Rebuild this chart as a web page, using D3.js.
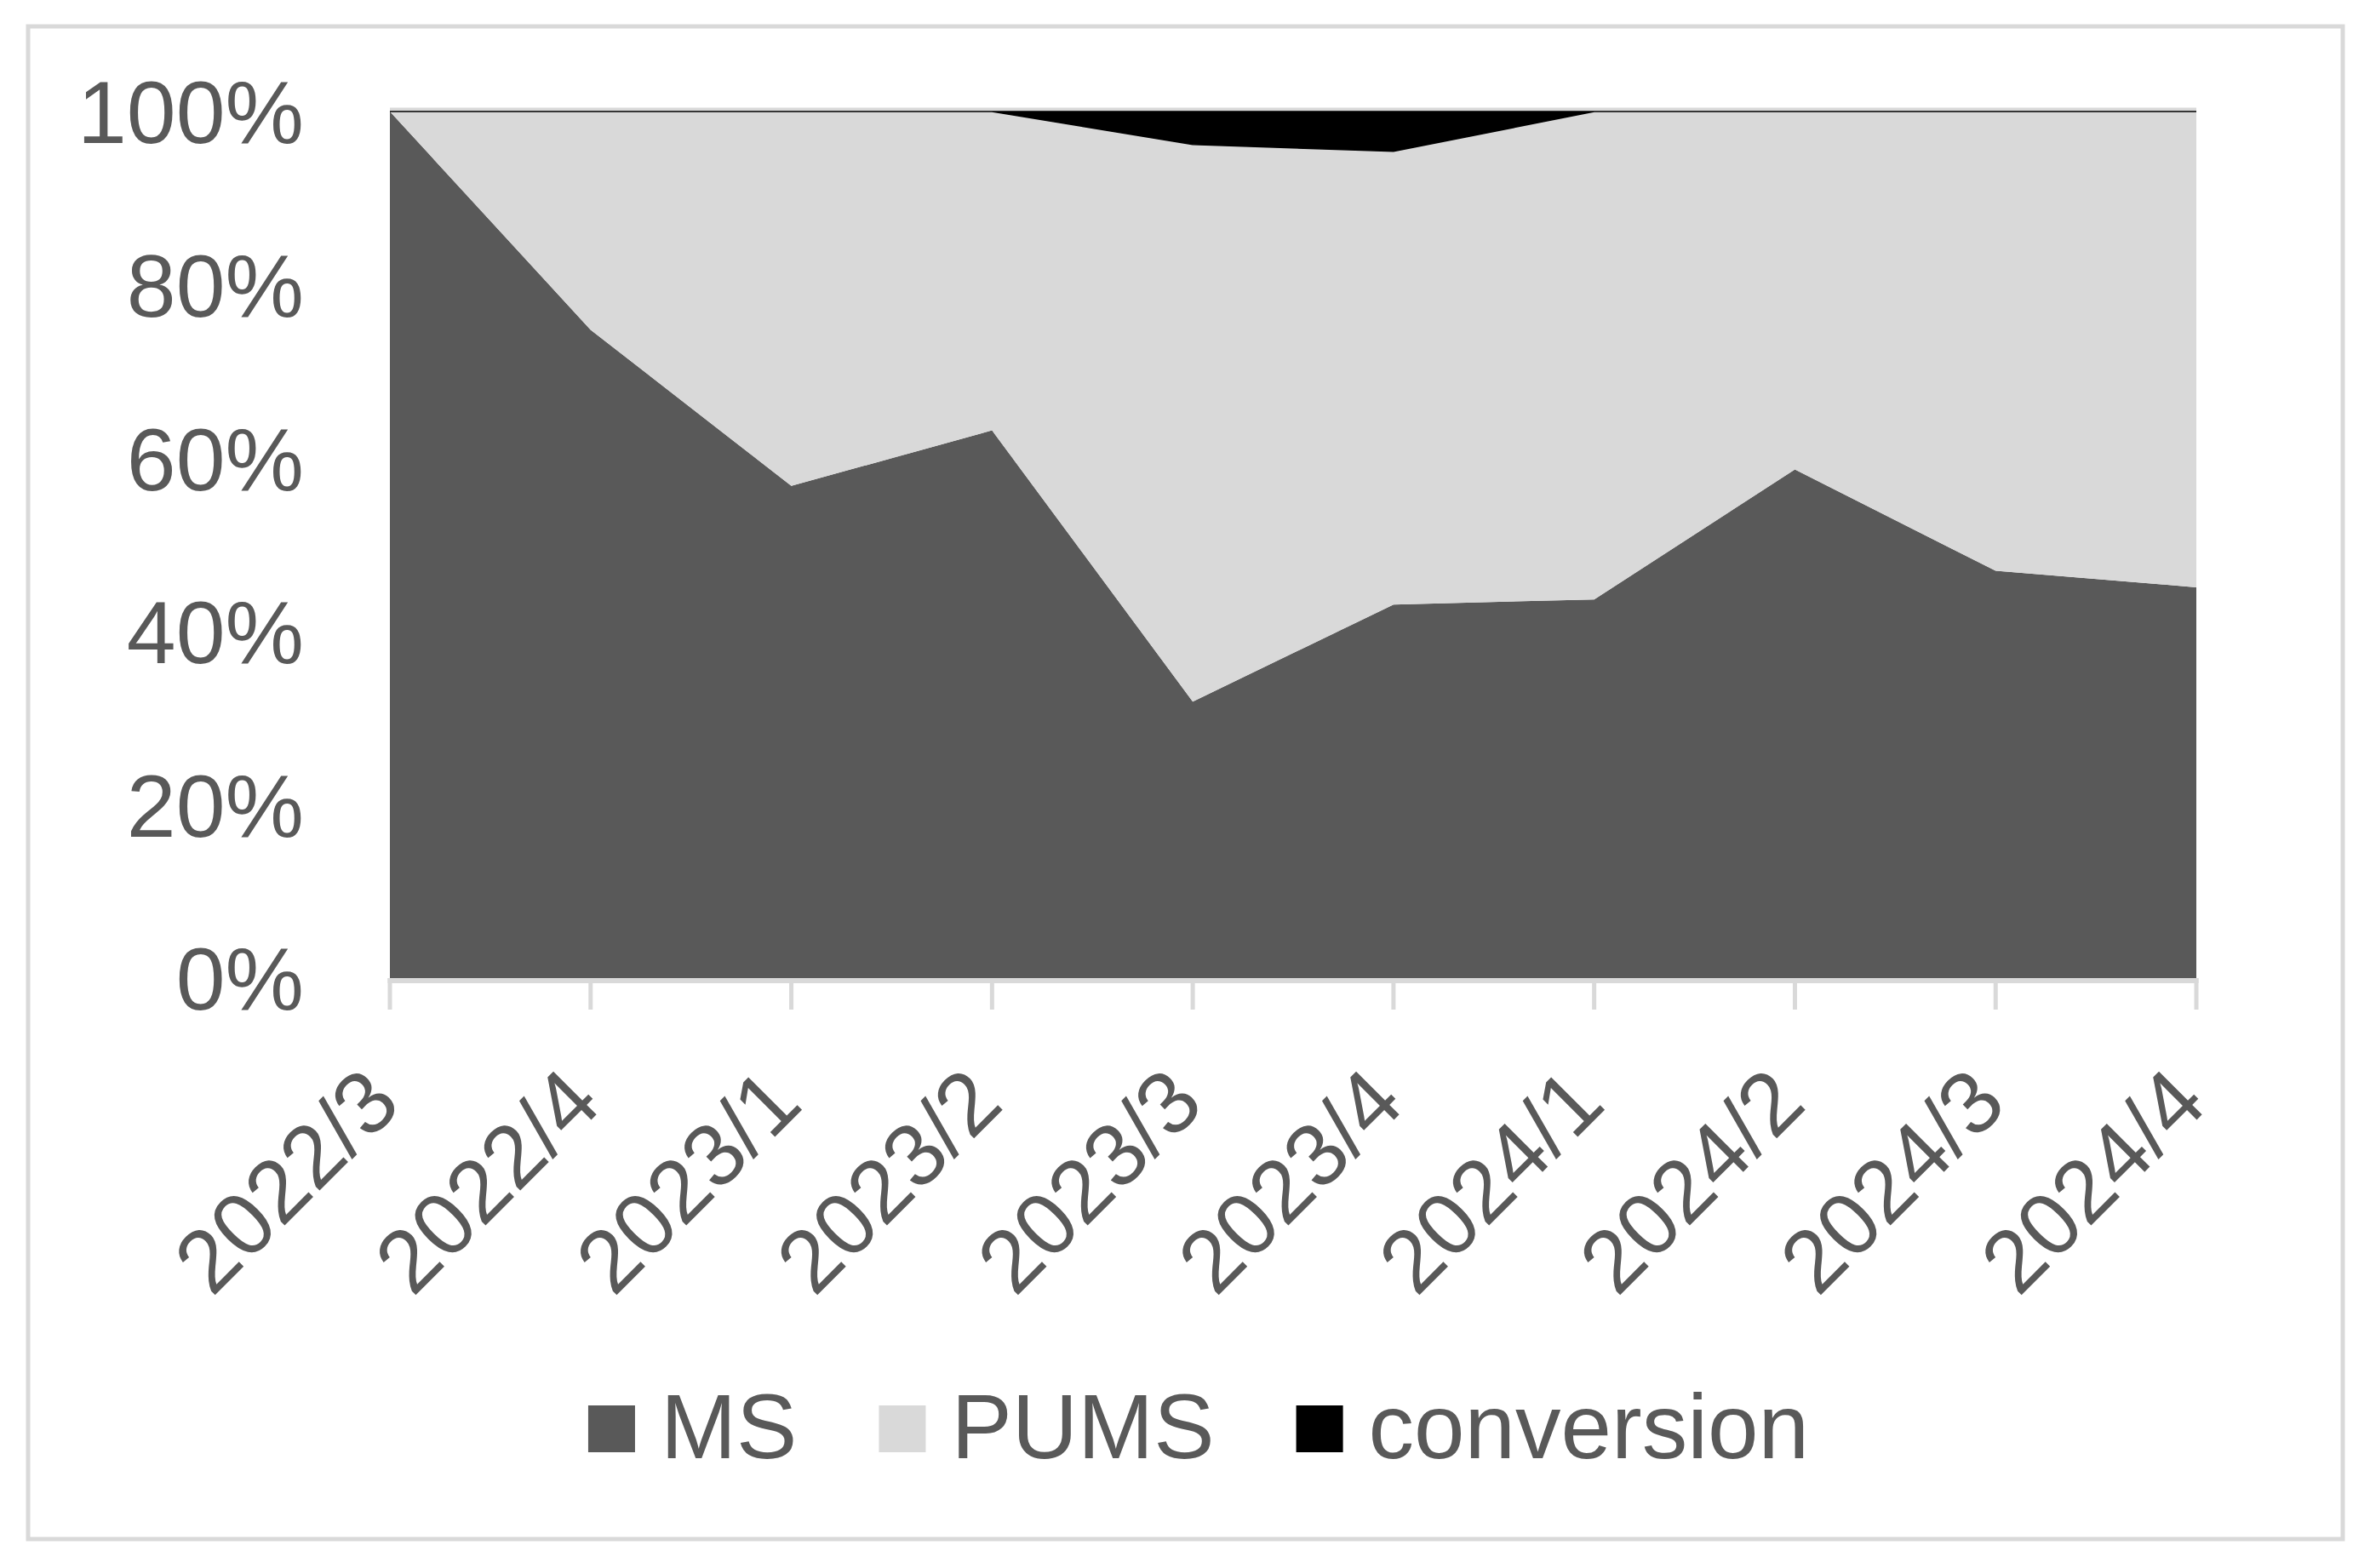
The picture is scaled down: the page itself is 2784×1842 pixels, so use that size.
<!DOCTYPE html>
<html>
<head>
<meta charset="utf-8">
<script src="https://cdn.jsdelivr.net/npm/d3@7"></script>
<style>
  html, body { margin: 0; padding: 0; background: #ffffff; }
  svg { display: block; }
  text { font-family: "Liberation Sans", Arial, sans-serif; fill: #595959; }
</style>
</head>
<body>
<svg id="chart" width="2784" height="1842"></svg>
<script>
const categories = ["2022/3","2022/4","2023/1","2023/2","2023/3","2023/4","2024/1","2024/2","2024/3","2024/4"];
const msValues = [100, 74.8, 56.8, 63.2, 31.9, 43.1, 43.7, 58.7, 47.0, 45.1];
const pumsValues = [0, 25.2, 43.2, 36.8, 64.3, 52.3, 56.3, 41.3, 53.0, 54.9];
const conversionValues = [0, 0, 0, 0, 3.8, 4.6, 0, 0, 0, 0];
const seriesNames = ["MS", "PUMS", "conversion"];
const seriesColors = ["#595959", "#d9d9d9", "#000000"];
const yTicks = [0, 20, 40, 60, 80, 100];

const svg = d3.select("#chart");
const W = 2784, H = 1842;
const plot = { left: 458, right: 2580, top: 131, bottom: 1149 };

svg.append("rect").attr("x", 0).attr("y", 0).attr("width", W).attr("height", H).attr("fill", "#ffffff");
// outer border
svg.append("rect").attr("x", 33).attr("y", 31).attr("width", 2719).attr("height", 1777)
  .attr("fill", "none").attr("stroke", "#d9d9d9").attr("stroke-width", 5);

const x = d3.scalePoint().domain(categories).range([plot.left, plot.right]);
const y = d3.scaleLinear().domain([0, 100]).range([plot.bottom, plot.top]);

// gridlines
svg.append("g").selectAll("line").data(yTicks).join("line")
  .attr("x1", plot.left).attr("x2", plot.right)
  .attr("y1", d => y(d) - 2).attr("y2", d => y(d) - 2)
  .attr("stroke", "#d9d9d9").attr("stroke-width", 5);

const table = categories.map((c, i) => ({ cat: c, MS: msValues[i], PUMS: pumsValues[i], conversion: conversionValues[i] }));
const stacked = d3.stack().keys(seriesNames)(table);

const area = d3.area()
  .x(d => x(d.data.cat))
  .y0(d => y(d[0]))
  .y1(d => y(d[1]));

svg.append("g").selectAll("path").data(stacked).join("path")
  .attr("d", area)
  .attr("fill", (d, i) => seriesColors[i])
  .attr("stroke", (d, i) => i === 2 ? "#000000" : "none")
  .attr("stroke-width", 1.5);

// x axis line and ticks
svg.append("line").attr("x1", plot.left - 2.5).attr("x2", plot.right + 2.5)
  .attr("y1", plot.bottom + 3).attr("y2", plot.bottom + 3)
  .attr("stroke", "#d9d9d9").attr("stroke-width", 6);
svg.append("g").selectAll("line").data(categories).join("line")
  .attr("x1", d => x(d)).attr("x2", d => x(d))
  .attr("y1", plot.bottom).attr("y2", plot.bottom + 37)
  .attr("stroke", "#d9d9d9").attr("stroke-width", 5);

// y labels
svg.append("g").selectAll("text").data(yTicks).join("text")
  .attr("x", 357).attr("y", d => y(d))
  .attr("dy", "0.36em")
  .attr("text-anchor", "end")
  .attr("font-size", 104)
  .text(d => d + "%");

// x labels
svg.append("g").selectAll("text").data(categories).join("text")
  .attr("transform", d => `translate(${x(d) + 16},1300) rotate(-45)`)
  .attr("text-anchor", "end")
  .attr("font-size", 104)
  .text(d => d);

// legend
const legend = svg.append("g");
const fsL = 107, sw = 55, gapText = 30, gapItem = 96;
const items = legend.selectAll("g").data(seriesNames).join("g");
items.append("rect").attr("width", sw).attr("height", sw).attr("y", -sw)
  .attr("fill", (d, i) => seriesColors[i]);
items.append("text").attr("x", sw + gapText).attr("y", 0).attr("font-size", fsL).text(d => d);
let cx = 0;
const widths = [];
items.each(function () {
  const tw = d3.select(this).select("text").node().getComputedTextLength();
  widths.push(sw + gapText + tw);
});
const total = d3.sum(widths) + gapItem * (widths.length - 1);
const startX = 1408 - total / 2;
items.attr("transform", (d, i) => {
  const off = startX + d3.sum(widths.slice(0, i)) + gapItem * i;
  return `translate(${off},1713)`;
});
items.select("rect").attr("y", -62);
</script>
</body>
</html>
